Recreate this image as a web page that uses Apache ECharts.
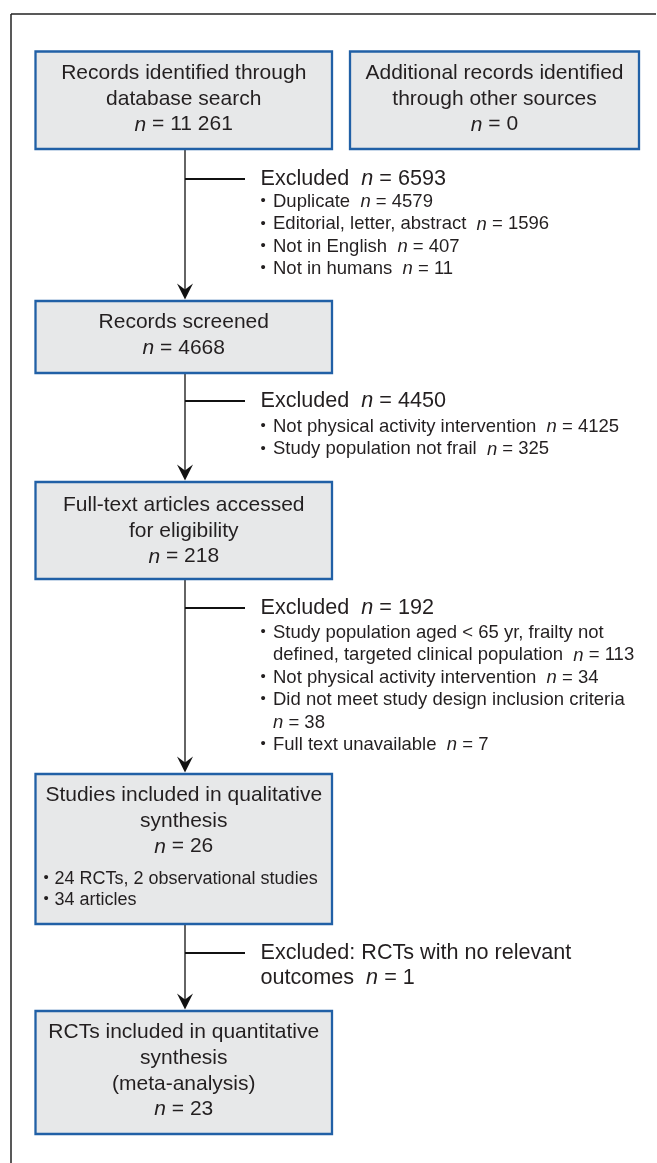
<!DOCTYPE html>
<html><head><meta charset="utf-8">
<script src="https://cdn.jsdelivr.net/npm/echarts@6/dist/echarts.min.js"></script>
<style>html,body{margin:0;padding:0;background:#fff}#c{width:657px;height:1163px}</style>
</head><body><div id="c"></div>
<script>
// ---------- DATA ----------
const boxTitles = [
  "Records identified through\ndatabase search",
  "Additional records identified\nthrough other sources",
  "Records screened",
  "Full-text articles accessed\nfor eligibility",
  "Studies included in qualitative\nsynthesis",
  "RCTs included in quantitative\nsynthesis\n(meta-analysis)"
];
const boxCounts = ["11 261", "0", "4668", "218", "26", "23"];
const boxNotes = [[], [], [], [], ["24 RCTs, 2 observational studies", "34 articles"], []];

const exclusionHeads = ["Excluded", "Excluded", "Excluded", "Excluded: RCTs with no relevant\noutcomes"];
const exclusionTotals = ["6593", "4450", "192", "1"];
const reasonLabels = [
  ["Duplicate", "Editorial, letter, abstract", "Not in English", "Not in humans"],
  ["Not physical activity intervention", "Study population not frail"],
  ["Study population aged < 65 yr, frailty not\ndefined, targeted clinical population",
   "Not physical activity intervention",
   "Did not meet study design inclusion criteria\n",
   "Full text unavailable"],
  []
];
const reasonCounts = [
  ["4579", "1596", "407", "11"],
  ["4125", "325"],
  ["113", "34", "38", "7"],
  []
];

// ---------- LAYOUT (pixel space of hidden axes) ----------
const W = 657, H = 1163;
const FONT = "'Liberation Sans', Arial, Helvetica, sans-serif";
const INK = '#231f20';
const boxLayout = [
  {x0: 35.5, x1: 332, y0: 51.5, y1: 149, ty: 99},
  {x0: 350, x1: 639, y0: 51.5, y1: 149, ty: 99},
  {x0: 35.5, x1: 332, y0: 301, y1: 373, ty: 335},
  {x0: 35.5, x1: 332, y0: 482, y1: 579, ty: 531},
  {x0: 35.5, x1: 332, y0: 774, y1: 924, ty: 821, ny: 879},
  {x0: 35.5, x1: 332, y0: 1011, y1: 1134, ty: 1071}
];
const flow = [[0, 2], [2, 3], [3, 4], [4, 5]]; // box index pairs
const spineX = 185;
const branchEndX = 245;
const exclTextX = 260.5;
const exclLayout = [
  {y: 179, first: 202},
  {y: 401, first: 427},
  {y: 608, first: 633},
  {y: 953, first: 0}
];

const chart = echarts.init(document.getElementById('c'), null, {renderer: 'canvas'});

function richN(size) {
  return {i: {fontStyle: 'italic', fontSize: size, fontFamily: FONT, fill: INK}};
}
function txt(x, y, text, size, align, vAlign, lh) {
  return {
    type: 'text', x: x, y: y,
    style: {x: 0, y: 0, text: text, fill: INK, fontSize: size, fontFamily: FONT,
      align: align, verticalAlign: vAlign, lineHeight: lh || size * 1.2, rich: richN(size)}
  };
}

function renderBox(params, api) {
  const i = params.dataIndex;
  const L = boxLayout[i];
  const p0 = api.coord([L.x0, L.y0]), p1 = api.coord([L.x1, L.y1]);
  const cx = (p0[0] + p1[0]) / 2;
  const children = [{
    type: 'rect',
    shape: {x: p0[0], y: p0[1], width: p1[0] - p0[0], height: p1[1] - p0[1]},
    style: {fill: '#e7e8e9', stroke: '#2160a6', lineWidth: 2.3}
  }];
  const tc = api.coord([0, L.ty]);
  children.push(txt(cx, tc[1], boxTitles[i] + '\n{i|n} = ' + boxCounts[i], 21, 'center', 'middle', 25.7));
  boxNotes[i].forEach((note, k) => {
    const ny = api.coord([0, L.ny + k * 21])[1];
    children.push(txt(p0[0] + 8, ny - 1, '•', 15, 'left', 'middle'));
    children.push(txt(p0[0] + 19, ny, note, 18, 'left', 'middle', 21));
  });
  return {type: 'group', children};
}

function renderFlow(params, api) {
  const [a, b] = flow[params.dataIndex];
  const A = boxLayout[a], B = boxLayout[b];
  const top = api.coord([spineX, A.y1]), tip = api.coord([spineX, B.y0 - 1.5]);
  const br = api.coord([branchEndX, exclLayout[params.dataIndex].y]);
  return {type: 'group', children: [
    {type: 'line', shape: {x1: top[0], y1: top[1], x2: tip[0], y2: tip[1] - 8}, style: {stroke: '#111', lineWidth: 1.3}},
    {type: 'line', shape: {x1: top[0], y1: br[1], x2: br[0], y2: br[1]}, style: {stroke: '#111', lineWidth: 2}},
    {type: 'polygon', shape: {points: [[tip[0], tip[1]], [tip[0] - 8, tip[1] - 16], [tip[0], tip[1] - 10], [tip[0] + 8, tip[1] - 16]]}, style: {fill: '#111'}}
  ]};
}

function renderExcl(params, api) {
  const g = params.dataIndex;
  const L = exclLayout[g];
  const x0 = api.coord([exclTextX, 0])[0];
  const hy = api.coord([0, L.y])[1];
  const children = [txt(x0, hy - 12.5, exclusionHeads[g] + '  {i|n} = ' + exclusionTotals[g], 21.6, 'left', 'top', 25)];
  let line = 0;
  const lh = 22.4;
  reasonLabels[g].forEach((lab, k) => {
    const y = api.coord([0, L.first + line * lh])[1];
    const sep = lab.endsWith('\n') ? '' : '  ';
    const t = lab + sep + '{i|n} = ' + reasonCounts[g][k];
    children.push(txt(x0, y - 1, '•', 15, 'left', 'middle'));
    children.push(txt(x0 + 12.5, y - lh / 2, t, 18.5, 'left', 'top', lh));
    line += t.split('\n').length;
  });
  return {type: 'group', children};
}

function renderFrame(params, api) {
  const a = api.coord([11, 14]), b = api.coord([W, 14]), c = api.coord([11, H]);
  return {type: 'group', children: [
    {type: 'line', shape: {x1: a[0], y1: a[1], x2: b[0] - 1, y2: b[1]}, style: {stroke: '#222', lineWidth: 1.5}},
    {type: 'line', shape: {x1: a[0], y1: a[1], x2: c[0], y2: c[1]}, style: {stroke: '#222', lineWidth: 1.5}}
  ]};
}

chart.setOption({
  animation: false,
  backgroundColor: '#fff',
  grid: {left: 0, right: 0, top: 0, bottom: 0},
  xAxis: {type: 'value', min: 0, max: W, show: false},
  yAxis: {type: 'value', min: 0, max: H, inverse: true, show: false},
  series: [
    {type: 'custom', silent: true, clip: false, renderItem: renderFrame, data: [[0, 0]]},
    {type: 'custom', silent: true, clip: false, renderItem: renderFlow, data: flow.map((f, i) => [i, 0])},
    {type: 'custom', silent: true, clip: false, renderItem: renderBox, data: boxTitles.map((t, i) => [i, 0])},
    {type: 'custom', silent: true, clip: false, renderItem: renderExcl, data: exclusionHeads.map((t, i) => [i, 0])}
  ]
});
</script></body></html>
